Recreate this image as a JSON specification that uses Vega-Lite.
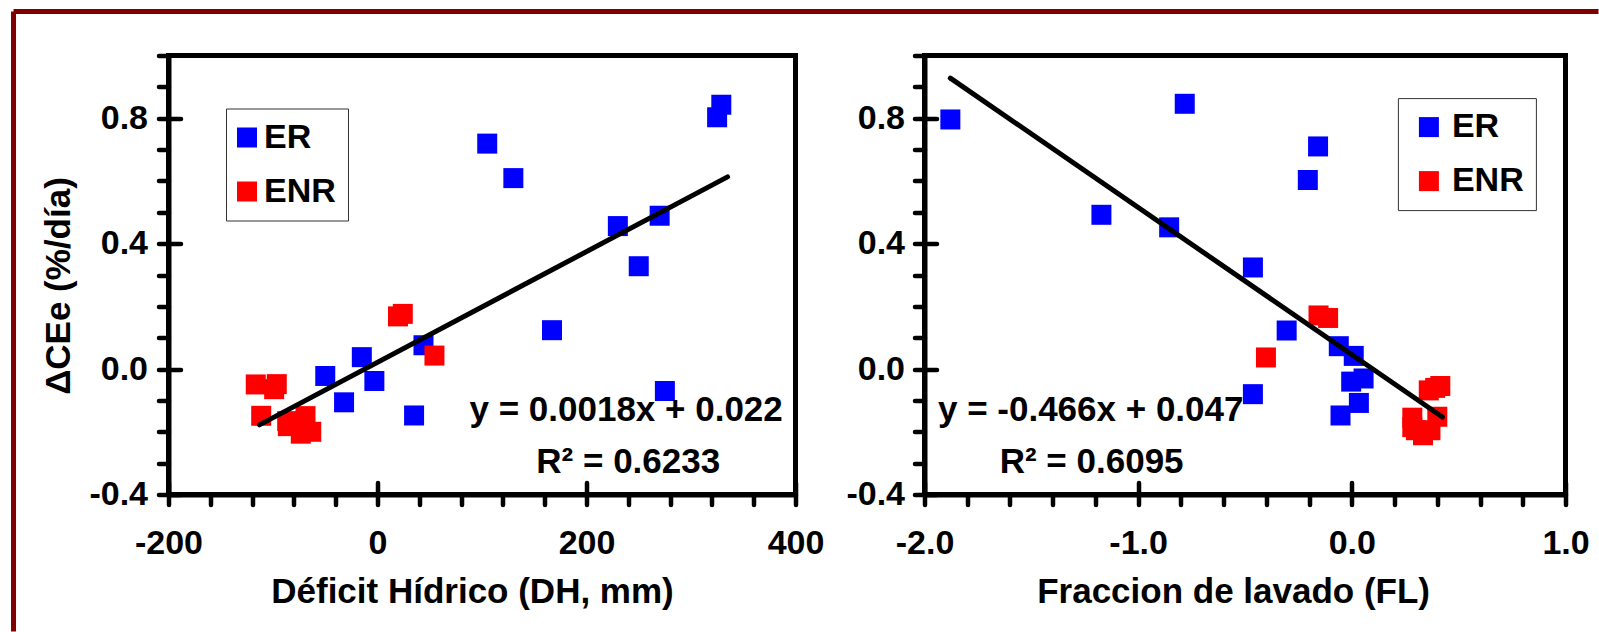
{
  "$schema": "https://vega.github.io/schema/vega-lite/v6.json",
  "background": "white",
  "autosize": {"type": "pad"},
  "padding": {"left": 8.5, "top": 6.5, "right": 0, "bottom": 0},
  "config": {
    "font": "Liberation Sans",
    "view": {"stroke": "black", "strokeWidth": 5},
    "axis": {
      "domainColor": "black", "domainWidth": 5,
      "tickColor": "black", "tickWidth": 4.5, "tickCap": "round",
      "labelFont": "Liberation Sans", "labelFontSize": 34, "labelFontWeight": "bold", "labelColor": "black",
      "titleFont": "Liberation Sans", "titleFontSize": 35, "titleFontWeight": "bold", "titleColor": "black",
      "grid": false, "labelOverlap": false, "labelBound": false, "labelFlush": false
    }
  },
  "datasets": {
    "dh": [
      {"grupo": "ER", "DH": 329, "dCEe": 0.843},
      {"grupo": "ER", "DH": 325, "dCEe": 0.803},
      {"grupo": "ER", "DH": 105, "dCEe": 0.719},
      {"grupo": "ER", "DH": 130, "dCEe": 0.609},
      {"grupo": "ER", "DH": 270, "dCEe": 0.489},
      {"grupo": "ER", "DH": 230, "dCEe": 0.456},
      {"grupo": "ER", "DH": 250, "dCEe": 0.328},
      {"grupo": "ER", "DH": 167, "dCEe": 0.124},
      {"grupo": "ER", "DH": 44, "dCEe": 0.076},
      {"grupo": "ER", "DH": -15, "dCEe": 0.038},
      {"grupo": "ER", "DH": -50, "dCEe": -0.022},
      {"grupo": "ER", "DH": -3, "dCEe": -0.038},
      {"grupo": "ER", "DH": -32, "dCEe": -0.106},
      {"grupo": "ER", "DH": 35, "dCEe": -0.148},
      {"grupo": "ER", "DH": 275, "dCEe": -0.07},
      {"grupo": "ENR", "DH": 19.6, "dCEe": 0.168},
      {"grupo": "ENR", "DH": 24.2, "dCEe": 0.176},
      {"grupo": "ENR", "DH": 54.5, "dCEe": 0.043},
      {"grupo": "ENR", "DH": -116.5, "dCEe": -0.049},
      {"grupo": "ENR", "DH": -96.4, "dCEe": -0.048},
      {"grupo": "ENR", "DH": -98.9, "dCEe": -0.064},
      {"grupo": "ENR", "DH": -111.3, "dCEe": -0.149},
      {"grupo": "ENR", "DH": -86.4, "dCEe": -0.166},
      {"grupo": "ENR", "DH": -85.8, "dCEe": -0.182},
      {"grupo": "ENR", "DH": -68.9, "dCEe": -0.15},
      {"grupo": "ENR", "DH": -63.4, "dCEe": -0.2},
      {"grupo": "ENR", "DH": -73.4, "dCEe": -0.206}
    ],
    "fl": [
      {"grupo": "ER", "FL": -1.879, "dCEe": 0.796},
      {"grupo": "ER", "FL": -0.782, "dCEe": 0.846},
      {"grupo": "ER", "FL": -1.172, "dCEe": 0.492},
      {"grupo": "ER", "FL": -0.855, "dCEe": 0.452},
      {"grupo": "ER", "FL": -0.158, "dCEe": 0.71},
      {"grupo": "ER", "FL": -0.206, "dCEe": 0.603},
      {"grupo": "ER", "FL": -0.463, "dCEe": 0.324},
      {"grupo": "ER", "FL": -0.305, "dCEe": 0.123},
      {"grupo": "ER", "FL": -0.061, "dCEe": 0.073},
      {"grupo": "ER", "FL": 0.009, "dCEe": 0.042},
      {"grupo": "ER", "FL": 0.055, "dCEe": -0.03},
      {"grupo": "ER", "FL": -0.003, "dCEe": -0.04},
      {"grupo": "ER", "FL": -0.463, "dCEe": -0.08},
      {"grupo": "ER", "FL": 0.033, "dCEe": -0.108},
      {"grupo": "ER", "FL": -0.053, "dCEe": -0.148},
      {"grupo": "ENR", "FL": -0.156, "dCEe": 0.171},
      {"grupo": "ENR", "FL": -0.111, "dCEe": 0.163},
      {"grupo": "ENR", "FL": -0.402, "dCEe": 0.037},
      {"grupo": "ENR", "FL": 0.36, "dCEe": -0.068},
      {"grupo": "ENR", "FL": 0.414, "dCEe": -0.054},
      {"grupo": "ENR", "FL": 0.39, "dCEe": -0.06},
      {"grupo": "ENR", "FL": 0.283, "dCEe": -0.155},
      {"grupo": "ENR", "FL": 0.4, "dCEe": -0.152},
      {"grupo": "ENR", "FL": 0.283, "dCEe": -0.185},
      {"grupo": "ENR", "FL": 0.3, "dCEe": -0.195},
      {"grupo": "ENR", "FL": 0.333, "dCEe": -0.211},
      {"grupo": "ENR", "FL": 0.368, "dCEe": -0.195}
    ],
    "dhline": [
      {"DH": -113, "dCEe": -0.178},
      {"DH": 335, "dCEe": 0.613}
    ],
    "flline": [
      {"FL": -1.879, "dCEe": 0.928},
      {"FL": 0.424, "dCEe": -0.153}
    ]
  },
  "bounds": "flush",
  "spacing": 129,
  "resolve": {"legend": {"color": "independent"}},
  "hconcat": [
    {
      "width": 627,
      "height": 439,
      "resolve": {"axis": {"x": "independent", "y": "independent"}},
      "layer": [
        {
          "data": {"name": "dh"},
          "mark": {"type": "square", "size": 400, "opacity": 1, "filled": true},
          "encoding": {
            "x": {"field": "DH", "type": "quantitative",
              "scale": {"domain": [-200, 400], "nice": false, "zero": false},
              "axis": {"orient": "bottom", "values": [-200, -160, -120, -80, -40, 0, 40, 80, 120, 160, 200, 240, 280, 320, 360, 400],
                "tickSize": 10, "labelPadding": 22,
                "labelExpr": "datum.value % 200 == 0 ? (datum.value < 0 ? '-' + abs(datum.value) : '' + datum.value) : ''",
                "title": "Déficit Hídrico (DH, mm)", "titlePadding": 14, "titleX": 303.5}},
            "y": {"field": "dCEe", "type": "quantitative",
              "scale": {"domain": [-0.4, 1.0], "nice": false, "zero": false},
              "axis": {"orient": "left", "values": [-0.4, -0.3, -0.2, -0.1, 0, 0.1, 0.2, 0.3, 0.4, 0.5, 0.6, 0.7, 0.8, 0.9, 1.0],
                "tickSize": 10, "labelPadding": 11,
                "labelExpr": "datum.value < -0.35 ? '-0.4' : abs(datum.value) < 0.05 ? '0.0' : abs(datum.value - 0.4) < 0.05 ? '0.4' : abs(datum.value - 0.8) < 0.05 ? '0.8' : ''",
                "title": "ΔCEe (%/día)", "titlePadding": 12, "titleY": 230}},
            "color": {"field": "grupo", "type": "nominal",
              "scale": {"domain": ["ER", "ENR"], "range": ["#0000FF", "#FF0000"]},
              "legend": {"orient": "none", "legendX": 57.5, "legendY": 53, "title": null,
                "symbolType": "square", "symbolSize": 400, "symbolOpacity": 1, "symbolStrokeWidth": 0, "symbolOffset": -8,
                "labelFontSize": 34, "labelFont": "Liberation Sans", "labelFontWeight": "bold", "labelColor": "black",
                "strokeColor": "#333333", "fillColor": "white", "padding": 12, "rowPadding": 20, "labelOffset": 0}}
          }
        },
        {
          "data": {"name": "dhline"},
          "mark": {"type": "line", "color": "black", "strokeWidth": 5, "strokeCap": "round"},
          "encoding": {
            "x": {"field": "DH", "type": "quantitative",
              "scale": {"domain": [-200, 400], "nice": false, "zero": false},
              "axis": {"orient": "bottom", "values": [-200, 0, 200, 400], "tickSize": -12, "labels": false, "domain": false, "title": null}},
            "y": {"field": "dCEe", "type": "quantitative",
              "scale": {"domain": [-0.4, 1.0], "nice": false, "zero": false},
              "axis": {"orient": "left", "values": [-0.4, 0, 0.4, 0.8], "tickSize": -12, "labels": false, "domain": false, "title": null}}
          }
        },
        {
          "data": {"values": [{}]},
          "mark": {"type": "text", "text": "y = 0.0018x + 0.022", "align": "left", "baseline": "alphabetic", "fontSize": 35, "fontWeight": "bold", "font": "Liberation Sans", "color": "black"},
          "encoding": {
            "x": {"datum": 88, "type": "quantitative", "scale": {"domain": [-200, 400], "nice": false, "zero": false}, "axis": null},
            "y": {"datum": -0.167, "type": "quantitative", "scale": {"domain": [-0.4, 1.0], "nice": false, "zero": false}, "axis": null}
          }
        },
        {
          "data": {"values": [{}]},
          "mark": {"type": "text", "text": "R² = 0.6233", "align": "left", "baseline": "alphabetic", "fontSize": 35, "fontWeight": "bold", "font": "Liberation Sans", "color": "black"},
          "encoding": {
            "x": {"datum": 152, "type": "quantitative", "scale": {"domain": [-200, 400], "nice": false, "zero": false}, "axis": null},
            "y": {"datum": -0.33, "type": "quantitative", "scale": {"domain": [-0.4, 1.0], "nice": false, "zero": false}, "axis": null}
          }
        },
        {
          "data": {"values": [{}]},
          "mark": {"type": "rule", "color": "#800000", "strokeWidth": 5, "clip": false},
          "encoding": {
            "x": {"datum": -348.3, "type": "quantitative", "scale": {"domain": [-200, 400], "nice": false, "zero": false}, "axis": null},
            "x2": {"datum": 1168.4},
            "y": {"datum": 1.14, "type": "quantitative", "scale": {"domain": [-0.4, 1.0], "nice": false, "zero": false}, "axis": null}
          }
        },
        {
          "data": {"values": [{}]},
          "mark": {"type": "rule", "color": "#800000", "strokeWidth": 5, "clip": false},
          "encoding": {
            "x": {"datum": -348.3, "type": "quantitative", "scale": {"domain": [-200, 400], "nice": false, "zero": false}, "axis": null},
            "y": {"datum": 1.14, "type": "quantitative", "scale": {"domain": [-0.4, 1.0], "nice": false, "zero": false}, "axis": null},
            "y2": {"datum": -0.837}
          }
        }
      ]
    },
    {
      "width": 641,
      "height": 439,
      "resolve": {"axis": {"x": "independent", "y": "independent"}},
      "layer": [
        {
          "data": {"name": "fl"},
          "mark": {"type": "square", "size": 400, "opacity": 1, "filled": true},
          "encoding": {
            "x": {"field": "FL", "type": "quantitative",
              "scale": {"domain": [-2, 1], "nice": false, "zero": false},
              "axis": {"orient": "bottom", "values": [-2, -1.8, -1.6, -1.4, -1.2, -1, -0.8, -0.6, -0.4, -0.2, 0, 0.2, 0.4, 0.6, 0.8, 1],
                "tickSize": 10, "labelPadding": 22,
                "labelExpr": "abs(datum.value - round(datum.value)) < 0.01 ? (datum.value < -0.5 ? '-' + format(abs(datum.value), '.1f') : format(abs(datum.value), '.1f')) : ''",
                "title": "Fraccion de lavado (FL)", "titlePadding": 14, "titleX": 308.6}},
            "y": {"field": "dCEe", "type": "quantitative",
              "scale": {"domain": [-0.4, 1.0], "nice": false, "zero": false},
              "axis": {"orient": "left", "values": [-0.4, -0.3, -0.2, -0.1, 0, 0.1, 0.2, 0.3, 0.4, 0.5, 0.6, 0.7, 0.8, 0.9, 1.0],
                "tickSize": 10, "labelPadding": 10,
                "labelExpr": "datum.value < -0.35 ? '-0.4' : abs(datum.value) < 0.05 ? '0.0' : abs(datum.value - 0.4) < 0.05 ? '0.4' : abs(datum.value - 0.8) < 0.05 ? '0.8' : ''",
                "title": null}},
            "color": {"field": "grupo", "type": "nominal",
              "scale": {"domain": ["ER", "ENR"], "range": ["#0000FF", "#FF0000"]},
              "legend": {"orient": "none", "legendX": 473.4, "legendY": 42.6, "title": null,
                "symbolType": "square", "symbolSize": 400, "symbolOpacity": 1, "symbolStrokeWidth": 0, "symbolOffset": 2,
                "labelFontSize": 34, "labelFont": "Liberation Sans", "labelFontWeight": "bold", "labelColor": "black",
                "strokeColor": "#333333", "fillColor": "white", "padding": 12, "rowPadding": 20, "labelOffset": 6}}
          }
        },
        {
          "data": {"name": "flline"},
          "mark": {"type": "line", "color": "black", "strokeWidth": 5, "strokeCap": "round"},
          "encoding": {
            "x": {"field": "FL", "type": "quantitative",
              "scale": {"domain": [-2, 1], "nice": false, "zero": false},
              "axis": {"orient": "bottom", "values": [-2, -1, 0, 1], "tickSize": -12, "labels": false, "domain": false, "title": null}},
            "y": {"field": "dCEe", "type": "quantitative",
              "scale": {"domain": [-0.4, 1.0], "nice": false, "zero": false},
              "axis": {"orient": "left", "values": [-0.4, 0, 0.4, 0.8], "tickSize": -12, "labels": false, "domain": false, "title": null}}
          }
        },
        {
          "data": {"values": [{}]},
          "mark": {"type": "text", "text": "y = -0.466x + 0.047", "align": "left", "baseline": "alphabetic", "fontSize": 35, "fontWeight": "bold", "font": "Liberation Sans", "color": "black"},
          "encoding": {
            "x": {"datum": -1.937, "type": "quantitative", "scale": {"domain": [-2, 1], "nice": false, "zero": false}, "axis": null},
            "y": {"datum": -0.167, "type": "quantitative", "scale": {"domain": [-0.4, 1.0], "nice": false, "zero": false}, "axis": null}
          }
        },
        {
          "data": {"values": [{}]},
          "mark": {"type": "text", "text": "R² = 0.6095", "align": "left", "baseline": "alphabetic", "fontSize": 35, "fontWeight": "bold", "font": "Liberation Sans", "color": "black"},
          "encoding": {
            "x": {"datum": -1.648, "type": "quantitative", "scale": {"domain": [-2, 1], "nice": false, "zero": false}, "axis": null},
            "y": {"datum": -0.33, "type": "quantitative", "scale": {"domain": [-0.4, 1.0], "nice": false, "zero": false}, "axis": null}
          }
        }
      ]
    }
  ]
}
